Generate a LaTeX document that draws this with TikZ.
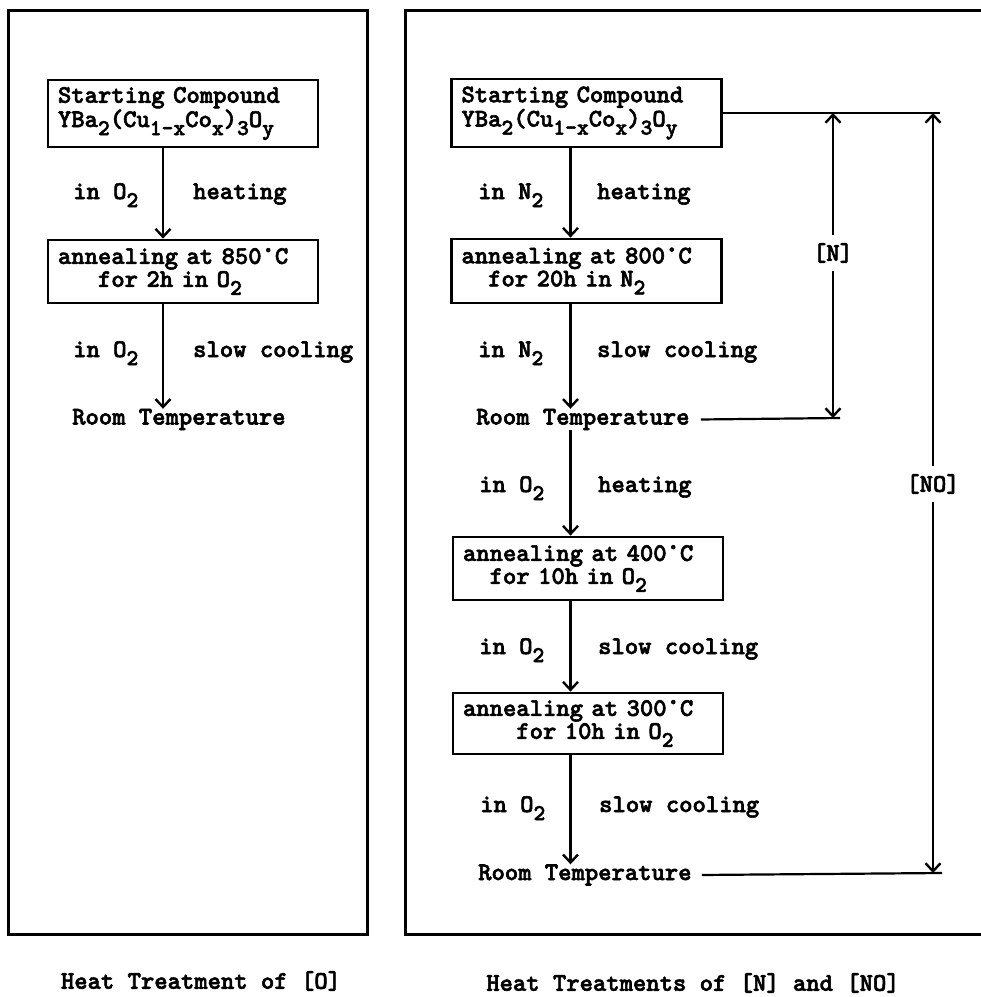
\documentclass[tikz,border=0pt]{standalone}
\usepackage{fontspec}
\usetikzlibrary{arrows.meta}
% heavy typewriter face for all lettering
\newfontfamily\tw{lmmonolt10-bold}[Extension=.otf, FakeBold=2.2]
% lowered index, typewriter style
\newcommand\dn[1]{\raisebox{-8pt}{\fontsize{22.5}{22.5}\selectfont #1}}

\begin{document}
\begin{tikzpicture}[x=1pt,y=-1pt,
  font={\tw\fontsize{25.4}{23}\selectfont},
  panel/.style={line width=3pt},
  box/.style={draw, line width=2.8pt, inner xsep=10pt, inner ysep=0pt,
              text width=250pt, align=left},
  flow/.style={line width=2.4pt, -{Straight Barb[length=8pt,width=15pt,line width=2.4pt]}},
  link/.style={line width=2.2pt},
  lbl/.style={inner sep=0pt, anchor=base west},
  span/.style={inner xsep=0pt, inner ysep=8pt}]
\useasboundingbox (0,0) rectangle (981,997);

% ---------- panel frames ----------
\draw[panel] (8,10) rectangle (367,934);
\draw[panel] (990,10) -- (405,10) -- (405,934) -- (990,934);

% ---------- left column: treatment [O] ----------
\coordinate (c0) at (163,0);
\node[box, minimum height=67pt] (s0) at (183,113.5)
  {Starting Compound\\YBa\dn{2}(Cu\dn{1-x}Co\dn{x})\dn{3}O\dn{y}};
\node[box, minimum height=63pt] (a0) at (183,271.5)
  {annealing at 850°C\\\hphantom{xxx}for 2h in O\dn{2}};
\node[lbl] (r0) at (72,424.5) {Room Temperature};

\node[lbl] (g0a) at (73,199) {in O\dn{2}};
\node[lbl] (h0a) at (193,199) {heating};
\node[lbl] (g0b) at (73,357) {in O\dn{2}};
\node[lbl] (h0b) at (193,357) {slow cooling};

\draw[flow] (s0.south -| c0) -- (a0.north -| c0);
\draw[flow] (a0.south -| c0) -- (r0.north -| c0);

% ---------- right column: treatments [N] and [NO] ----------
\coordinate (c1) at (570.5,0);
\node[box, minimum height=68pt] (s1) at (586.5,113)
  {Starting Compound\\YBa\dn{2}(Cu\dn{1-x}Co\dn{x})\dn{3}O\dn{y}};
\node[box, minimum height=64pt] (a1) at (586.5,271)
  {annealing at 800°C\\\hphantom{xx}for 20h in N\dn{2}};
\node[lbl] (r1) at (476,424.5) {Room Temperature};
\node[box, minimum height=63pt] (a2) at (588,568.5)
  {annealing at 400°C\\\hphantom{xx}for 10h in O\dn{2}};
\node[box, minimum height=61pt] (a3) at (588,723.5)
  {annealing at 300°C\\\hphantom{xxxx}for 10h in O\dn{2}};
\node[lbl] (r2) at (478,880) {Room Temperature};

\node[lbl] (g1a) at (478,199) {in N\dn{2}};
\node[lbl] (h1a) at (597,199) {heating};
\node[lbl] (g1b) at (478,357) {in N\dn{2}};
\node[lbl] (h1b) at (597,357) {slow cooling};
\node[lbl] (g1c) at (479,492) {in O\dn{2}};
\node[lbl] (h1c) at (598,492) {heating};
\node[lbl] (g1d) at (479,654) {in O\dn{2}};
\node[lbl] (h1d) at (598,654) {slow cooling};
\node[lbl] (g1e) at (480,812) {in O\dn{2}};
\node[lbl] (h1e) at (599,812) {slow cooling};

\draw[flow] (s1.south -| c1) -- (a1.north -| c1);
\draw[flow] (a1.south -| c1) -- (r1.north -| c1);
\draw[flow] (r1.south -| c1) -- (a2.north -| c1);
\draw[flow] (a2.south -| c1) -- (a3.north -| c1);
\draw[flow] (a3.south -| c1) -- (r2.north -| c1);

% ---------- spans marking [N] and [NO] ----------
\node[span] (nN) at (833,253) {[N]};
\node[span] (nNO) at (933,484) {[NO]};
\coordinate (eTop) at (940,113);
\coordinate (eN) at (840,418);
\coordinate (eNO) at (942,873);

\draw[link] (s1.east) -- (eTop);
\draw[link] ([xshift=11pt]r1.east) -- (eN);
\draw[link] ([xshift=10pt]r2.east) -- (eNO);

\draw[flow] (nN.north) -- (nN.north |- eTop);
\draw[flow] (nN.south) -- (nN.south |- eN);
\draw[flow] (nNO.north) -- (nNO.north |- eTop);
\draw[flow] (nNO.south) -- (nNO.south |- eNO);

% ---------- captions ----------
\node (cap0) at (201,981) {Heat Treatment of [O]};
\node (cap1) at (693,983) {Heat Treatments of [N] and [NO]};
\end{tikzpicture}
\end{document}
